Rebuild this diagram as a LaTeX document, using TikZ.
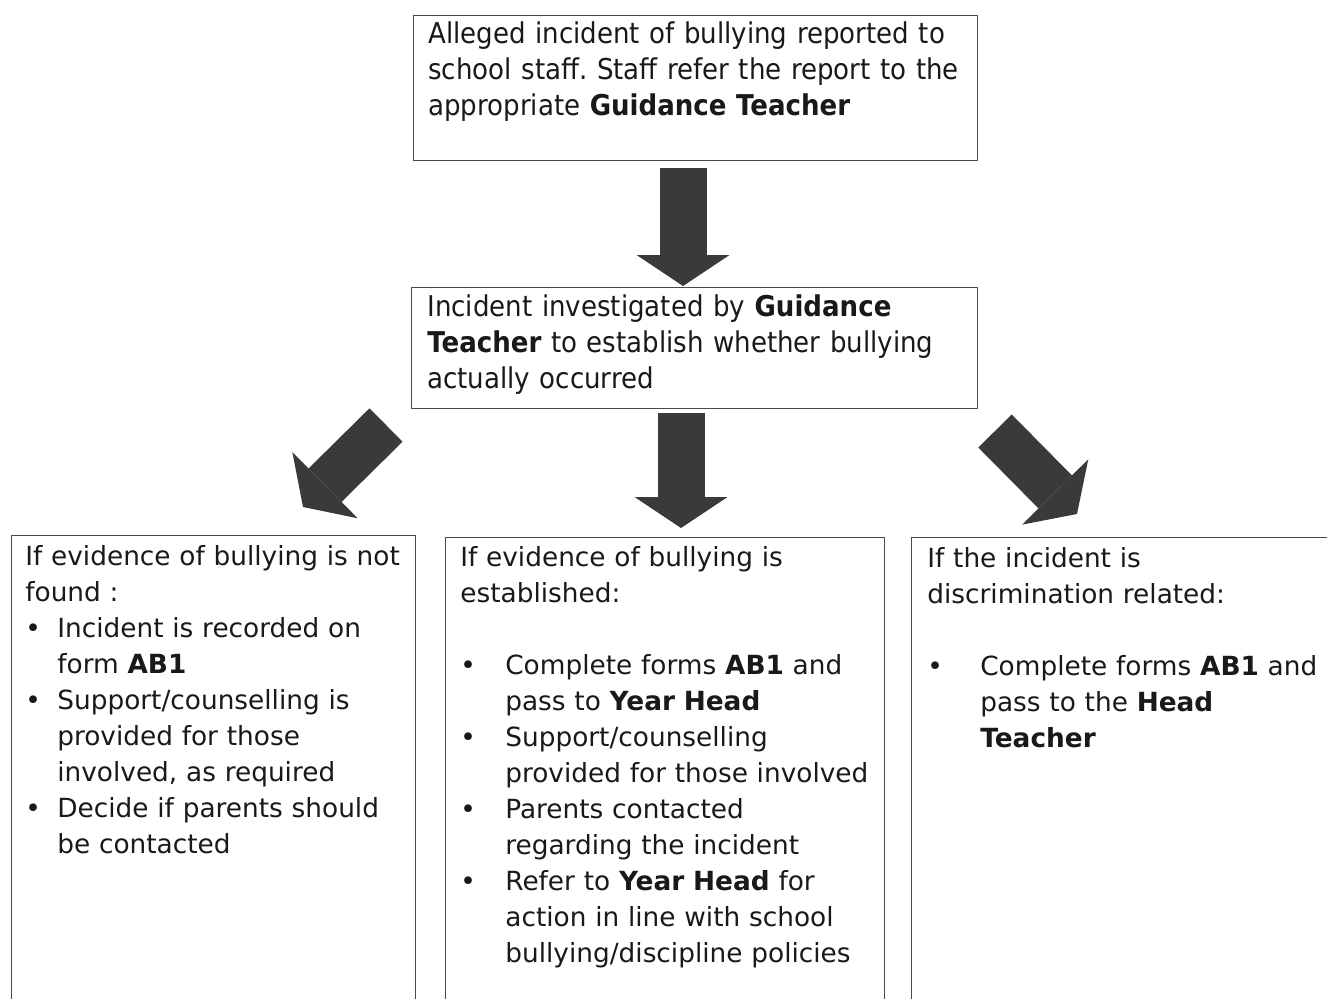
\documentclass[tikz,border=0pt]{standalone}
\usepackage{fontspec}
\setmainfont{DejaVu Sans}
\newfontfamily\narrowfont[FakeStretch=0.91]{DejaVu Sans}
\usetikzlibrary{arrows.meta}
\frenchspacing
\definecolor{boxline}{HTML}{4A4A4A}
\definecolor{arrowfill}{HTML}{3A3A3A}
\tikzset{box/.style={draw=boxline, line width=0.8pt, rectangle, inner sep=0pt, anchor=north west}}
\tikzset{bodytext/.style={anchor=north west, inner sep=0pt, align=left, text width=#1, text=black!90, font=\fontsize{15pt}{20.5pt}\selectfont}}
\tikzset{headtext/.style={anchor=north west, inner sep=0pt, align=left, text width=#1, text=black!90, font=\narrowfont\fontsize{16.3pt}{20.5pt}\selectfont}}
\tikzset{fatarrow/.style={draw=arrowfill, line width=0.94cm, -{Triangle[width=1.86cm, length=0.62cm, line width=0pt]}}}
\newcommand{\bul}[1]{\makebox[#1][l]{\textbullet}}
\newcommand{\hang}[1]{\hspace*{#1}}

\begin{document}
\begin{tikzpicture}[x=0.02cm, y=-0.02cm]
    \clip (0,0) rectangle (1327,999);
    \fill[white] (0,0) rectangle (1327,999);

    % boxes
    \node[box, minimum width=11.28cm, minimum height=2.9cm] (report) at (413,15) {};
    \node[box, minimum width=11.32cm, minimum height=2.42cm] (investigate) at (411,287) {};
    \node[box, minimum width=8.08cm, minimum height=9.6cm] (nobully) at (11,535) {};
    \node[box, minimum width=8.78cm, minimum height=9.6cm] (bully) at (445,537) {};
    \node[box, minimum width=8.6cm, minimum height=9.6cm] (discrim) at (911,537) {};

    % texts
    \node[headtext=11cm] (reportText) at (428,18) {\strut Alleged incident of bullying reported to\\
        school staff. Staff refer the report to the\\
        appropriate \textbf{Guidance Teacher}};
    \node[headtext=11cm] (investigateText) at (427,291) {\strut Incident investigated by \textbf{Guidance}\\
        \textbf{Teacher} to establish whether bullying\\
        actually occurred};
    \node[bodytext=7.8cm] (nobullyText) at (25,540) {\strut If evidence of bullying is not\\
        found :\\
        \bul{0.64cm}Incident is recorded on\\
        \hang{0.64cm}form \textbf{AB1}\\
        \bul{0.64cm}Support/counselling is\\
        \hang{0.64cm}provided for those\\
        \hang{0.64cm}involved, as required\\
        \bul{0.64cm}Decide if parents should\\
        \hang{0.64cm}be contacted};
    \node[bodytext=8.4cm] (bullyText) at (460,541) {\strut If evidence of bullying is\\
        established:\\
        \mbox{}\\
        \bul{0.9cm}Complete forms \textbf{AB1} and\\
        \hang{0.9cm}pass to \textbf{Year Head}\\
        \bul{0.9cm}Support/counselling\\
        \hang{0.9cm}provided for those involved\\
        \bul{0.9cm}Parents contacted\\
        \hang{0.9cm}regarding the incident\\
        \bul{0.9cm}Refer to \textbf{Year Head} for\\
        \hang{0.9cm}action in line with school\\
        \hang{0.9cm}bullying/discipline policies};
    \node[bodytext=8.2cm] (discrimText) at (927,542) {\strut If the incident is\\
        discrimination related:\\
        \mbox{}\\
        \bul{1.06cm}Complete forms \textbf{AB1} and\\
        \hang{1.06cm}pass to the \textbf{Head}\\
        \hang{1.06cm}\textbf{Teacher}};

    % block arrows
    \coordinate (reportOut) at (683,168);
    \coordinate (investigateIn) at (683,286);
    \coordinate (investigateOut) at (681,413);
    \coordinate (bullyIn) at (681,528);
    \coordinate (leftOut) at (386,425);
    \coordinate (nobullyIn) at (303,507);
    \coordinate (rightOut) at (995,431);
    \coordinate (discrimIn) at (1077,514);
    \draw[fatarrow] (reportOut) -- (investigateIn);
    \draw[fatarrow] (investigateOut) -- (bullyIn);
    \draw[fatarrow] (leftOut) -- (nobullyIn);
    \draw[fatarrow] (rightOut) -- (discrimIn);
\end{tikzpicture}
\end{document}
